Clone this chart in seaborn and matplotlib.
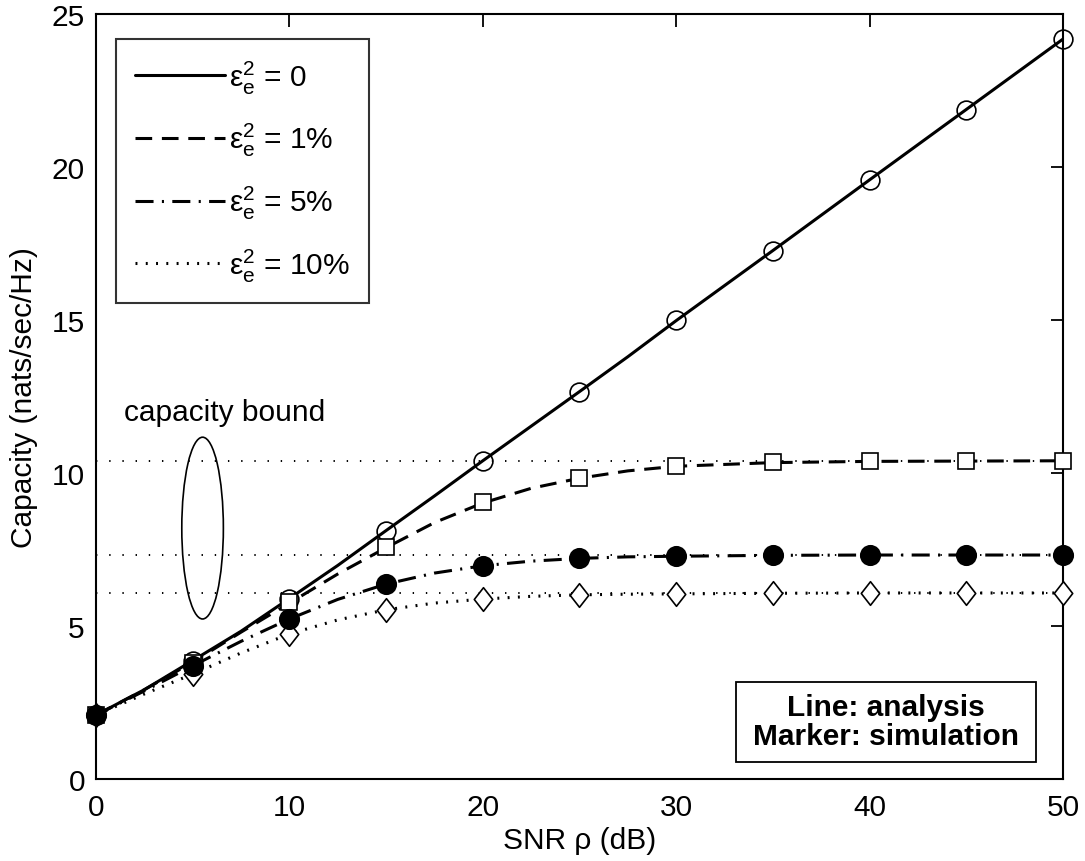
import matplotlib
matplotlib.use("Agg")
import matplotlib.pyplot as plt
import seaborn as sns
from matplotlib.patches import Ellipse, Rectangle
from matplotlib.path import Path

# ---- data ----
snr_sim = [0, 5, 10, 15, 20, 25, 30, 35, 40, 45, 50]
sim_0 = [2.09, 3.87, 5.88, 8.11, 10.40, 12.65, 15.00, 17.25, 19.58, 21.87, 24.18]
sim_1 = [2.09, 3.80, 5.78, 7.59, 9.04, 9.83, 10.24, 10.37, 10.38, 10.38, 10.38]
sim_5 = [2.09, 3.70, 5.23, 6.37, 6.97, 7.21, 7.28, 7.32, 7.32, 7.32, 7.32]
sim_10 = [2.09, 3.43, 4.74, 5.53, 5.88, 6.02, 6.05, 6.08, 6.08, 6.08, 6.08]

snr_ana = [0, 2.5, 5, 7.5, 10, 12.5, 15, 17.5, 20, 22.5, 25, 27.5, 30, 35, 40, 45, 50]
ana_0 = [2.09, 2.92, 3.87, 4.83, 5.90, 6.98, 8.12, 9.25, 10.40, 11.53, 12.66, 13.80, 14.98, 17.27, 19.58, 21.88, 24.18]
ana_1 = [2.09, 2.92, 3.82, 4.80, 5.75, 6.70, 7.56, 8.38, 9.02, 9.50, 9.83, 10.07, 10.22, 10.34, 10.38, 10.39, 10.40]
ana_5 = [2.09, 2.88, 3.70, 4.50, 5.23, 5.87, 6.37, 6.73, 6.97, 7.12, 7.21, 7.26, 7.28, 7.31, 7.32, 7.32, 7.32]
ana_10 = [2.09, 2.78, 3.43, 4.12, 4.74, 5.20, 5.53, 5.75, 5.88, 5.97, 6.02, 6.04, 6.05, 6.07, 6.08, 6.08, 6.08]

bounds = [10.40, 7.32, 6.07]
labels = [r'$\mathrm{\varepsilon}_\mathrm{e}^\mathrm{2}$ = 0',
          r'$\mathrm{\varepsilon}_\mathrm{e}^\mathrm{2}$ = 1%',
          r'$\mathrm{\varepsilon}_\mathrm{e}^\mathrm{2}$ = 5%',
          r'$\mathrm{\varepsilon}_\mathrm{e}^\mathrm{2}$ = 10%']
x_ticks = [0, 10, 20, 30, 40, 50]
y_ticks = [0, 5, 10, 15, 20, 25]

# ---- style ----
sns.set_style("white")
plt.rcParams['font.family'] = ['Liberation Sans', 'DejaVu Sans']
plt.rcParams['mathtext.fontset'] = 'custom'
plt.rcParams['mathtext.rm'] = 'Liberation Sans'
plt.rcParams['mathtext.it'] = 'Liberation Sans:italic'
plt.rcParams['mathtext.bf'] = 'Liberation Sans:bold'
plt.rcParams['lines.scale_dashes'] = False
plt.rcParams['text.color'] = 'black'
plt.rcParams['axes.labelcolor'] = 'black'
plt.rcParams['xtick.color'] = 'black'
plt.rcParams['ytick.color'] = 'black'
FS = 21.5

fig = plt.figure(figsize=(10.85, 8.62), dpi=100)
ax = fig.add_axes([0.0885, 0.0951, 0.8912, 0.8875])

# bound lines
for b in bounds:
    ax.axhline(b, color='k', lw=1.4, linestyle=(0, (1.0, 8.5)), zorder=1)

line_styles = ['-', (0, (12, 7)), (0, (13, 6, 1.5, 6)), (0, (1.4, 6))]
ana_series = [ana_0, ana_1, ana_5, ana_10]
for ys, ls, lab in zip(ana_series, line_styles, labels):
    sns.lineplot(x=snr_ana, y=ys, ax=ax, color='k', lw=2.2, label=lab, zorder=2)
    ax.lines[-1].set_linestyle(ls)

# markers
diamond = Path([(0, 1), (0.78, 0), (0, -1), (-0.78, 0), (0, 1)],
               [Path.MOVETO, Path.LINETO, Path.LINETO, Path.LINETO, Path.CLOSEPOLY])
marker_specs = [
    (sim_10, diamond, 17.0, 'white'),
    (sim_0, 'o', 13.5, 'none'),
    (sim_1, 's', 11.0, 'white'),
    (sim_5, 'o', 14.0, 'k'),
]
for ys, mk, ms, fc in marker_specs:
    sns.lineplot(x=snr_sim, y=ys, ax=ax, color='k', linestyle='none', marker=mk,
                 markersize=ms, markerfacecolor=fc, markeredgecolor='k',
                 markeredgewidth=1.2, zorder=3)
    ax.lines[-1].set_clip_on(False)

# annotation
ax.add_patch(Ellipse((5.51, 8.2), width=2.15, height=5.94, fill=False,
                     edgecolor='k', lw=1.2, zorder=4))
ax.text(1.45, 12.0, 'capacity bound', fontsize=FS, ha='left', va='center')

ax.add_patch(Rectangle((33.11, 0.556), 15.5, 2.615, fill=True, facecolor='white',
                       edgecolor='k', lw=1.3, zorder=5))
ax.text(40.86, 1.88, 'Line: analysis\nMarker: simulation', fontsize=FS,
        fontweight='bold', ha='center', va='center', linespacing=1.05, zorder=6)

# axes
ax.set_xlim(0, 50)
ax.set_ylim(0, 25)
ax.set_xticks(x_ticks)
ax.set_yticks(y_ticks)
ax.tick_params(direction='in', length=9, width=1.3, top=True, right=True,
               labelsize=FS, colors='k')
ax.tick_params(axis='y', pad=8)
ax.tick_params(axis='x', pad=10)
for s in ax.spines.values():
    s.set_visible(True)
    s.set_color('k')
    s.set_linewidth(1.5)
ax.set_xlabel('SNR ρ (dB)', fontsize=FS, labelpad=4)
ax.set_ylabel('Capacity (nats/sec/Hz)', fontsize=FS, labelpad=10)

leg = ax.legend(loc='upper left', bbox_to_anchor=(0.0207, 0.967), borderaxespad=0,
                fontsize=FS, frameon=True, fancybox=False, edgecolor='k',
                handlelength=3.0, handletextpad=0.12, labelspacing=0.85,
                borderpad=0.65)
leg.get_frame().set_linewidth(1.5)
leg.set_zorder(7)

fig.savefig('out.png', dpi=100, facecolor='white')
